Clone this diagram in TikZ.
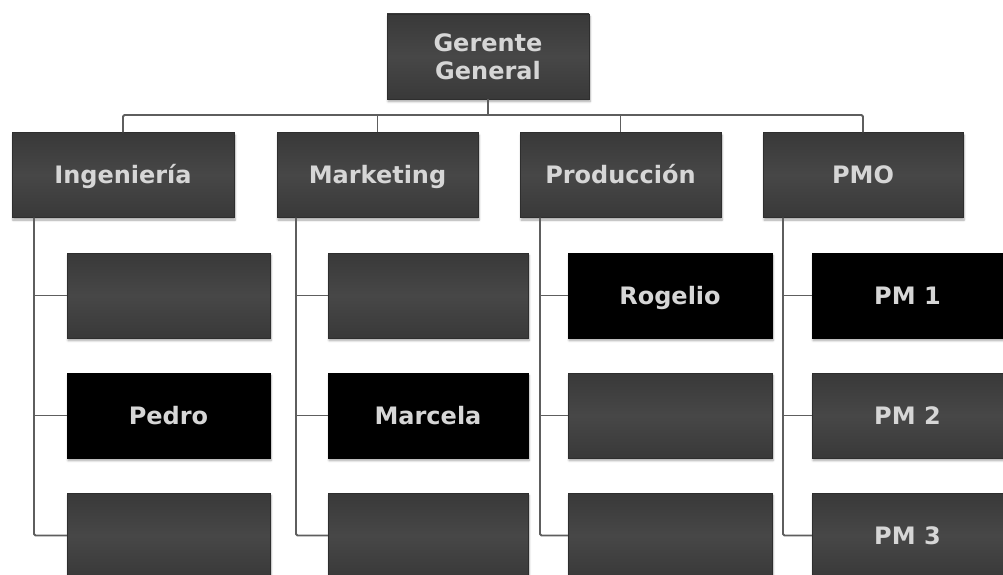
\documentclass[tikz,border=0pt]{standalone}
\usepackage{fontspec}
\setmainfont{DejaVu Sans}
\usetikzlibrary{shadows.blur}
\definecolor{boxtop}{HTML}{393939}
\definecolor{boxmid}{HTML}{474747}
\definecolor{boxedge}{HTML}{2E2E2E}
\definecolor{txt}{HTML}{D6D6D6}
\definecolor{conn}{HTML}{5E5E5E}
\tikzset{
  basebox/.style={rectangle, inner sep=0pt, minimum height=85, align=center,
    text=txt, font=\fontsize{24}{28}\selectfont\bfseries, draw=boxedge, line width=0.4pt,
    top color=boxtop, bottom color=boxtop, middle color=boxmid,
    blur shadow={shadow xshift=1pt, shadow yshift=-2.5pt, shadow blur steps=6, shadow opacity=35}},
  orgbox/.style={basebox, text height=17.5pt, text depth=0pt},
  namebox/.style={orgbox, top color=black, bottom color=black, middle color=black, draw=black},
  link/.style={draw=conn, line width=1.8pt, rounded corners=1.5pt}
}
\begin{document}
\begin{tikzpicture}[x=1pt,y=-1pt]
\useasboundingbox (0,0) rectangle (1003,575);
% top
\node[basebox, minimum width=202] (gg) at (488,56.5) {Gerente\\General};
% level 2
\node[orgbox, minimum width=222] (ing) at (123,175) {Ingeniería};
\node[orgbox, minimum width=201] (mkt) at (377.5,175) {Marketing};
\node[orgbox, minimum width=201] (prod) at (620.5,175) {Producción};
\node[orgbox, minimum width=200] (pmo) at (863,175) {PMO};
% column 1
\node[orgbox, minimum width=203] (a1) at (168.5,295.5) {};
\node[namebox, minimum width=203] (a2) at (168.5,415.5) {Pedro};
\node[orgbox, minimum width=203] (a3) at (168.5,535.5) {};
% column 2
\node[orgbox, minimum width=200] (b1) at (428,295.5) {};
\node[namebox, minimum width=200] (b2) at (428,415.5) {Marcela};
\node[orgbox, minimum width=200] (b3) at (428,535.5) {};
% column 3
\node[namebox, minimum width=204] (c1) at (670,295.5) {Rogelio};
\node[orgbox, minimum width=204] (c2) at (670,415.5) {};
\node[orgbox, minimum width=204] (c3) at (670,535.5) {};
% column 4
\node[namebox, minimum width=191] (d1) at (907.5,295.5) {PM 1};
\node[orgbox, minimum width=191] (d2) at (907.5,415.5) {PM 2};
\node[orgbox, minimum width=191] (d3) at (907.5,535.5) {PM 3};
% bus
\coordinate (bus) at (0,115);
\coordinate (v1) at (34,0);
\coordinate (v2) at (296,0);
\coordinate (v3) at (540,0);
\coordinate (v4) at (783,0);
\draw[link] (ing.north) -- (ing.north |- bus) -- (pmo.north |- bus) -- (pmo.north);
\draw[link] (gg.south) -- (gg.south |- bus);
\draw[link] (mkt.north) -- (mkt.north |- bus);
\draw[link] (prod.north) -- (prod.north |- bus);
% column connectors
\draw[link] (v1 |- ing.south) -- (v1 |- a3.west) -- (a3.west);
\draw[link] (v1 |- a1.west) -- (a1.west);
\draw[link] (v1 |- a2.west) -- (a2.west);
\draw[link] (v2 |- mkt.south) -- (v2 |- b3.west) -- (b3.west);
\draw[link] (v2 |- b1.west) -- (b1.west);
\draw[link] (v2 |- b2.west) -- (b2.west);
\draw[link] (v3 |- prod.south) -- (v3 |- c3.west) -- (c3.west);
\draw[link] (v3 |- c1.west) -- (c1.west);
\draw[link] (v3 |- c2.west) -- (c2.west);
\draw[link] (v4 |- pmo.south) -- (v4 |- d3.west) -- (d3.west);
\draw[link] (v4 |- d1.west) -- (d1.west);
\draw[link] (v4 |- d2.west) -- (d2.west);
\end{tikzpicture}
\end{document}
